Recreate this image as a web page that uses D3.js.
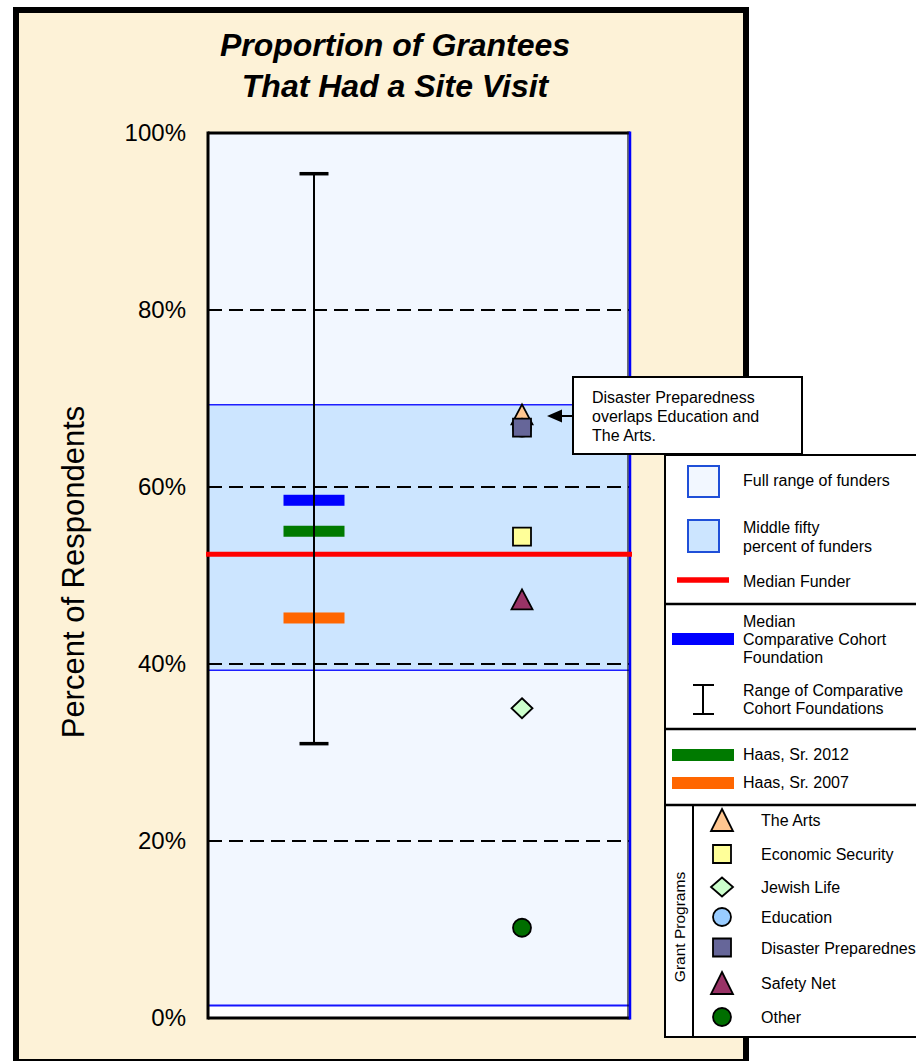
<!DOCTYPE html>
<html>
<head>
<meta charset="utf-8">
<script src="https://cdn.jsdelivr.net/npm/d3@7"></script>
<style>
  html, body { margin: 0; padding: 0; background: #ffffff; }
  svg { display: block; font-family: "Liberation Sans", Arial, sans-serif; }
</style>
</head>
<body>
<svg id="chart" width="916" height="1061"></svg>
<script>
// ---- data ----
const titleLines = ["Proportion of Grantees", "That Had a Site Visit"];
const yAxisTitle = "Percent of Respondents";
const yTickValues = [0, 20, 40, 60, 80, 100];
const gridValues = [20, 40, 60, 80];
const columns = ["Cohort", "Programs"];

// funder distribution (percent)
const fullRange = [1.4, 100];
const middleFifty = [39.3, 69.3];
const medianFunder = 52.4;

// comparative cohort
const cohortRange = [31.0, 95.4];
const cohortMedian = 58.5;

// this foundation over time
const haasLabels = ["Haas, Sr. 2012", "Haas, Sr. 2007"];
const haasValues = [55.0, 45.2];
const haasColors = ["#007A00", "#FF6600"];

// grant programs
const programNames = ["The Arts", "Economic Security", "Jewish Life", "Education",
                      "Disaster Preparedness", "Safety Net", "Other"];
const programValues = [68.2, 54.4, 35.0, 66.7, 66.7, 47.3, 10.2];
const programShapes = ["triangle", "square", "diamond", "circle", "square", "triangle", "circle"];
const programColors = ["#FFC690", "#FFFF99", "#CCFFCC", "#99CCFF", "#666699", "#993366", "#006E00"];

const calloutLines = ["Disaster Preparedness", "overlaps Education and", "The Arts."];

// ---- layout ----
const svg = d3.select("#chart");
const plot = { left: 208, right: 630, top: 133, bottom: 1018 };

const y = d3.scaleLinear().domain([0, 100]).range([plot.bottom, plot.top]);
const x = d3.scalePoint().domain(columns).range([plot.left + 2, plot.right - 4]).padding(0.5);

function markerPath(shape, w, h) {
  if (shape === "triangle") return `M0,${-h / 2}L${w / 2},${h / 2}L${-w / 2},${h / 2}Z`;
  if (shape === "square") return `M${-w / 2},${-w / 2}h${w}v${w}h${-w}Z`;
  if (shape === "diamond") return `M0,${-h / 2}L${w / 2},0L0,${h / 2}L${-w / 2},0Z`;
  const r = w / 2;
  return `M${-r},0A${r},${r} 0 1,0 ${r},0A${r},${r} 0 1,0 ${-r},0Z`;
}
const markerSize = { triangle: [21, 20], square: [18, 18], diamond: [21, 20], circle: [18, 18] };

// ---- outer panel ----
svg.append("rect")
  .attr("x", 16).attr("y", 10).attr("width", 730).attr("height", 1052)
  .attr("fill", "#FDF2D7").attr("stroke", "#000").attr("stroke-width", 6);

// ---- title ----
svg.append("g").selectAll("text").data(titleLines).join("text")
  .attr("x", 395).attr("y", (d, i) => 56 + i * 41)
  .attr("text-anchor", "middle")
  .attr("font-size", 32).attr("font-weight", "bold").attr("font-style", "italic")
  .attr("fill", "#000")
  .text(d => d);

// ---- plot background and bands ----
svg.append("rect")
  .attr("x", plot.left).attr("y", plot.top)
  .attr("width", plot.right - plot.left).attr("height", plot.bottom - plot.top)
  .attr("fill", "#ffffff");

svg.append("rect")
  .attr("x", plot.left).attr("y", y(fullRange[1]))
  .attr("width", plot.right - plot.left).attr("height", y(fullRange[0]) - y(fullRange[1]))
  .attr("fill", "#F2F7FF");
svg.append("line")
  .attr("x1", plot.left).attr("x2", plot.right)
  .attr("y1", y(fullRange[0])).attr("y2", y(fullRange[0]))
  .attr("stroke", "#1414FF").attr("stroke-width", 2);

svg.append("rect")
  .attr("x", plot.left).attr("y", y(middleFifty[1]))
  .attr("width", plot.right - plot.left).attr("height", y(middleFifty[0]) - y(middleFifty[1]))
  .attr("fill", "#CCE5FF");
svg.append("g").selectAll("line").data(middleFifty).join("line")
  .attr("x1", plot.left).attr("x2", plot.right)
  .attr("y1", d => y(d)).attr("y2", d => y(d))
  .attr("stroke", "#1E1EFF").attr("stroke-width", 1.6);

// ---- gridlines ----
svg.append("g").selectAll("line").data(gridValues).join("line")
  .attr("x1", plot.left).attr("x2", plot.right)
  .attr("y1", d => y(d)).attr("y2", d => y(d))
  .attr("stroke", "#000").attr("stroke-width", 2.2)
  .attr("stroke-dasharray", "14 7");

// ---- plot frame ----
svg.append("line").attr("x1", plot.left).attr("x2", plot.right)
  .attr("y1", plot.top).attr("y2", plot.top).attr("stroke", "#000").attr("stroke-width", 3);
svg.append("line").attr("x1", plot.left).attr("x2", plot.right)
  .attr("y1", plot.bottom).attr("y2", plot.bottom).attr("stroke", "#000").attr("stroke-width", 3);
svg.append("line").attr("x1", plot.left).attr("x2", plot.left)
  .attr("y1", plot.top - 1.5).attr("y2", plot.bottom + 1.5).attr("stroke", "#000").attr("stroke-width", 3);
svg.append("line").attr("x1", plot.right - 2).attr("x2", plot.right - 2)
  .attr("y1", plot.top - 1.5).attr("y2", plot.bottom + 1.5).attr("stroke", "#111").attr("stroke-width", 1.2);
svg.append("line").attr("x1", plot.right).attr("x2", plot.right)
  .attr("y1", plot.top - 1.5).attr("y2", plot.bottom + 1.5).attr("stroke", "#0000FF").attr("stroke-width", 2.5);

// ---- y axis ----
const yAxis = d3.axisLeft(y).tickValues(yTickValues).tickFormat(d => d + "%")
  .tickSize(0).tickPadding(22);
const yAxisG = svg.append("g").attr("transform", `translate(${plot.left},0)`).call(yAxis);
yAxisG.select(".domain").remove();
yAxisG.selectAll("text")
  .attr("font-family", "Liberation Sans, Arial, sans-serif")
  .attr("font-size", 24).attr("fill", "#000");

svg.append("text")
  .attr("transform", "translate(84,572) rotate(-90)")
  .attr("text-anchor", "middle").attr("font-size", 31).attr("fill", "#000")
  .text(yAxisTitle);

// ---- median funder ----
svg.append("line")
  .attr("x1", plot.left - 2).attr("x2", plot.right + 2)
  .attr("y1", y(medianFunder)).attr("y2", y(medianFunder))
  .attr("stroke", "#FF0000").attr("stroke-width", 5);

// ---- cohort median and Haas bars ----
const barW = 61, barH = 11;
const cx = x("Cohort");
svg.append("rect")
  .attr("x", cx - barW / 2).attr("y", y(cohortMedian) - barH / 2)
  .attr("width", barW).attr("height", barH).attr("fill", "#0000FF");
svg.append("g").selectAll("rect").data(haasValues).join("rect")
  .attr("x", cx - barW / 2).attr("y", d => y(d) - barH / 2)
  .attr("width", barW).attr("height", barH)
  .attr("fill", (d, i) => haasColors[i]);

// ---- cohort range ----
const capW = 29;
svg.append("line")
  .attr("x1", cx).attr("x2", cx)
  .attr("y1", y(cohortRange[1])).attr("y2", y(cohortRange[0]))
  .attr("stroke", "#000").attr("stroke-width", 2);
svg.append("g").selectAll("line").data(cohortRange).join("line")
  .attr("x1", cx - capW / 2).attr("x2", cx + capW / 2)
  .attr("y1", d => y(d)).attr("y2", d => y(d))
  .attr("stroke", "#000").attr("stroke-width", 3.5);

// ---- grant program markers ----
const px = x("Programs");
svg.append("g").selectAll("path").data(programValues).join("path")
  .attr("transform", d => `translate(${px},${y(d)})`)
  .attr("d", (d, i) => {
    const s = markerSize[programShapes[i]];
    return markerPath(programShapes[i], s[0], s[1]);
  })
  .attr("fill", (d, i) => programColors[i])
  .attr("stroke", "#000").attr("stroke-width", 1.8)
  .attr("stroke-linejoin", "miter");

// ---- legend ----
const lg = svg.append("g");
lg.append("rect").attr("x", 665).attr("y", 455).attr("width", 270).attr("height", 582)
  .attr("fill", "#fff").attr("stroke", "#000").attr("stroke-width", 2);
[604, 729, 805].forEach(yy => {
  lg.append("line").attr("x1", 665).attr("x2", 935).attr("y1", yy).attr("y2", yy)
    .attr("stroke", "#000").attr("stroke-width", 2.5);
});
lg.append("line").attr("x1", 693).attr("x2", 693).attr("y1", 805).attr("y2", 1037)
  .attr("stroke", "#000").attr("stroke-width", 2);

function legendText(lines, x0, y0, lh) {
  lg.append("g").selectAll("text").data(lines).join("text")
    .attr("x", x0).attr("y", (d, i) => y0 + i * lh)
    .attr("font-size", 16).attr("fill", "#000").text(d => d);
}

// section 1: funder distribution
lg.append("rect").attr("x", 688).attr("y", 466).attr("width", 31).attr("height", 31)
  .attr("fill", "#F2F7FF").attr("stroke", "#1F4FD8").attr("stroke-width", 2);
legendText(["Full range of funders"], 743, 486, 18);
lg.append("rect").attr("x", 688).attr("y", 520).attr("width", 31).attr("height", 32)
  .attr("fill", "#CCE5FF").attr("stroke", "#1F4FD8").attr("stroke-width", 2);
legendText(["Middle fifty", "percent of funders"], 743, 533, 18.5);
lg.append("line").attr("x1", 677).attr("x2", 729).attr("y1", 580).attr("y2", 580)
  .attr("stroke", "#FF0000").attr("stroke-width", 5.5);
legendText(["Median Funder"], 743, 587, 18);

// section 2: cohort
lg.append("rect").attr("x", 672).attr("y", 633).attr("width", 62).attr("height", 12)
  .attr("fill", "#0000FF");
legendText(["Median", "Comparative Cohort", "Foundation"], 743, 627, 17.8);
lg.append("line").attr("x1", 703).attr("x2", 703).attr("y1", 685).attr("y2", 714)
  .attr("stroke", "#000").attr("stroke-width", 2);
lg.append("line").attr("x1", 693).attr("x2", 714).attr("y1", 685).attr("y2", 685)
  .attr("stroke", "#000").attr("stroke-width", 2);
lg.append("line").attr("x1", 693).attr("x2", 714).attr("y1", 714).attr("y2", 714)
  .attr("stroke", "#000").attr("stroke-width", 2);
legendText(["Range of Comparative", "Cohort Foundations"], 743, 696, 17.6);

// section 3: Haas over time
haasLabels.forEach((lab, i) => {
  const cy = 755 + i * 28;
  lg.append("rect").attr("x", 672).attr("y", cy - 6).attr("width", 62).attr("height", 12)
    .attr("fill", haasColors[i]);
  legendText([lab], 743, cy + 5, 18);
});

// section 4: grant programs
lg.append("text")
  .attr("transform", "translate(685,927) rotate(-90)")
  .attr("text-anchor", "middle").attr("font-size", 15.5).attr("fill", "#000")
  .text("Grant Programs");
const legendRowY = [820, 854, 887, 917, 947.5, 983, 1017];
programNames.forEach((name, i) => {
  const shape = programShapes[i];
  const s = shape === "triangle" ? [22, 22] : shape === "diamond" ? [22, 19] : [18, 18];
  lg.append("path")
    .attr("transform", `translate(722,${legendRowY[i]})`)
    .attr("d", markerPath(shape, s[0], s[1]))
    .attr("fill", programColors[i]).attr("stroke", "#000").attr("stroke-width", 1.8);
  legendText([name], 761, legendRowY[i] + 6, 18);
});

// ---- callout ----
const co = svg.append("g");
co.append("rect").attr("x", 573).attr("y", 377).attr("width", 229).attr("height", 77)
  .attr("fill", "#fff").attr("stroke", "#000").attr("stroke-width", 2);
co.append("line").attr("x1", 573).attr("x2", 558).attr("y1", 416).attr("y2", 416)
  .attr("stroke", "#000").attr("stroke-width", 2);
co.append("path").attr("d", "M547,416L562,409.5L562,422.5Z").attr("fill", "#000");
co.append("g").selectAll("text").data(calloutLines).join("text")
  .attr("x", 592).attr("y", (d, i) => 403 + i * 19)
  .attr("font-size", 16).attr("fill", "#000").text(d => d);
</script>
</body>
</html>
